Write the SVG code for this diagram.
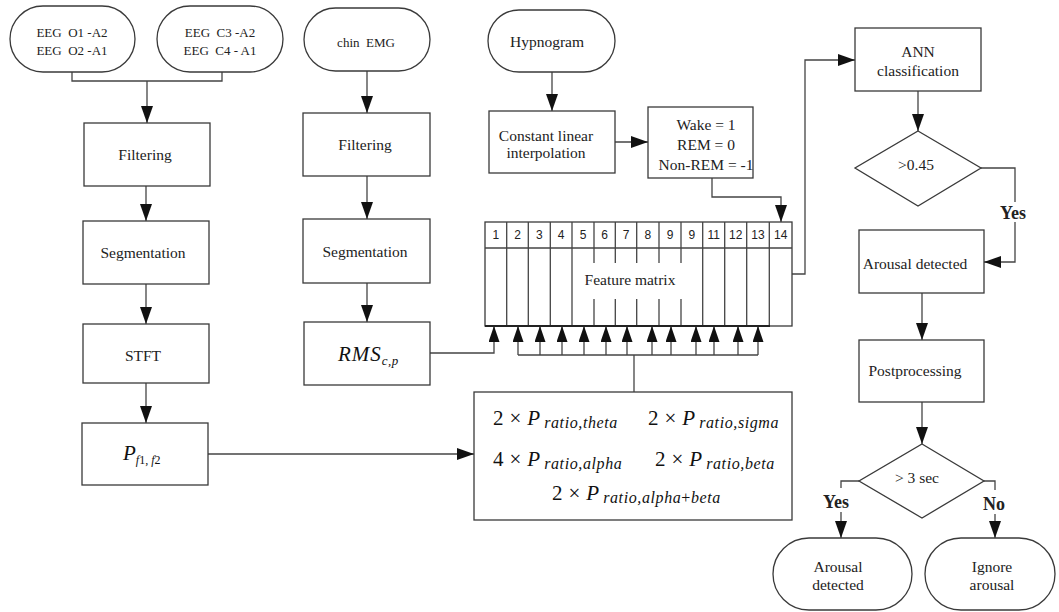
<svg xmlns="http://www.w3.org/2000/svg" width="1059" height="612" viewBox="0 0 1059 612">
<defs>
<style>
.box{fill:#fff;stroke:#3a3a3a;stroke-width:1.3}
.ln{fill:none;stroke:#444;stroke-width:1.3}
.t{font-family:"Liberation Serif","Times New Roman",serif;font-size:15.5px;fill:#222;text-anchor:middle}
.s{font-size:13px}
.num{font-family:"Liberation Sans",Arial,sans-serif;font-size:12px;fill:#222;text-anchor:middle}
.lbl{font-family:"Liberation Serif","Times New Roman",serif;font-size:18px;font-weight:bold;fill:#222;text-anchor:middle}
.m{font-family:"Liberation Serif","Times New Roman",serif;font-size:21px;fill:#111}
.mi{font-style:italic}
.sub{font-style:italic;font-size:16px;letter-spacing:0.6px}
</style>
<marker id="ah" viewBox="0 0 17 12" refX="17" refY="6" markerWidth="17" markerHeight="12" markerUnits="userSpaceOnUse" orient="auto"><path d="M0,0 L17,6 L0,12 z" fill="#111"/></marker>
<marker id="ahs" viewBox="0 0 16 11" refX="16" refY="5.5" markerWidth="16" markerHeight="11" markerUnits="userSpaceOnUse" orient="auto"><path d="M0,0 L16,5.5 L0,11 z" fill="#111"/></marker>
</defs>
<rect width="1059" height="612" fill="#fff"/>

<g id="connectors">
<polyline class="ln" points="72,72 72,81 222,81 222,72"/>
<line class="ln" x1="147" y1="81" x2="147" y2="123" marker-end="url(#ah)"/>
<line class="ln" x1="146" y1="186" x2="146" y2="221" marker-end="url(#ah)"/>
<line class="ln" x1="146" y1="284" x2="146" y2="324" marker-end="url(#ah)"/>
<line class="ln" x1="146" y1="383" x2="146" y2="423" marker-end="url(#ah)"/>
<line class="ln" x1="208" y1="454" x2="474" y2="454" marker-end="url(#ah)"/>
<line class="ln" x1="367" y1="71" x2="367" y2="113" marker-end="url(#ah)"/>
<line class="ln" x1="367" y1="176" x2="367" y2="219" marker-end="url(#ah)"/>
<line class="ln" x1="367" y1="283" x2="367" y2="322" marker-end="url(#ah)"/>
<polyline class="ln" points="430,353 494,353 494,326" marker-end="url(#ahs)"/>
<line class="ln" x1="634" y1="392" x2="634" y2="355"/>
<line class="ln" x1="518" y1="355" x2="758" y2="355"/>
<line class="ln" x1="518" y1="355" x2="518" y2="326" marker-end="url(#ahs)"/>
<line class="ln" x1="540" y1="355" x2="540" y2="326" marker-end="url(#ahs)"/>
<line class="ln" x1="562" y1="355" x2="562" y2="326" marker-end="url(#ahs)"/>
<line class="ln" x1="584" y1="355" x2="584" y2="326" marker-end="url(#ahs)"/>
<line class="ln" x1="606" y1="355" x2="606" y2="326" marker-end="url(#ahs)"/>
<line class="ln" x1="627" y1="355" x2="627" y2="326" marker-end="url(#ahs)"/>
<line class="ln" x1="652" y1="355" x2="652" y2="326" marker-end="url(#ahs)"/>
<line class="ln" x1="671" y1="355" x2="671" y2="326" marker-end="url(#ahs)"/>
<line class="ln" x1="696" y1="355" x2="696" y2="326" marker-end="url(#ahs)"/>
<line class="ln" x1="714" y1="355" x2="714" y2="326" marker-end="url(#ahs)"/>
<line class="ln" x1="738" y1="355" x2="738" y2="326" marker-end="url(#ahs)"/>
<line class="ln" x1="758" y1="355" x2="758" y2="326" marker-end="url(#ahs)"/>
<line class="ln" x1="552" y1="72" x2="552" y2="111" marker-end="url(#ah)"/>
<line class="ln" x1="615" y1="142" x2="648" y2="142" marker-end="url(#ah)"/>
<polyline class="ln" points="712,178 712,197 781,197 781,222" marker-end="url(#ah)"/>
<polyline class="ln" points="792,274 805,274 805,60 855,60" marker-end="url(#ah)"/>
<line class="ln" x1="918" y1="91" x2="918" y2="131" marker-end="url(#ah)"/>
<polyline class="ln" points="981,168 1015,168 1015,262 984,262" marker-end="url(#ah)"/>
<line class="ln" x1="922" y1="293" x2="922" y2="340" marker-end="url(#ah)"/>
<line class="ln" x1="922" y1="402" x2="922" y2="444" marker-end="url(#ah)"/>
<polyline class="ln" points="859,481 841,481 841,538" marker-end="url(#ah)"/>
<polyline class="ln" points="984,481 995,481 995,538" marker-end="url(#ah)"/>
<rect x="997" y="202" width="32" height="20" fill="#fff"/>
<text class="lbl" x="1013" y="219">Yes</text>
<rect x="820" y="488" width="32" height="24" fill="#fff"/>
<text class="lbl" x="836" y="508">Yes</text>
<rect x="980" y="490" width="30" height="24" fill="#fff"/>
<text class="lbl" x="994" y="510">No</text>
</g>

<g id="eeg1"><rect class="box" x="10" y="6" width="125" height="66" rx="33"/><text class="t s" x="72" y="36.5">EEG&#160; O1 -A2</text><text class="t s" x="72" y="54.5">EEG&#160; O2 -A1</text></g>
<g id="eeg2"><rect class="box" x="157" y="6" width="126" height="66" rx="33"/><text class="t s" x="220" y="36.5">EEG&#160; C3 -A2</text><text class="t s" x="220" y="54.5">EEG&#160; C4 - A1</text></g>
<g id="filter1"><rect class="box" x="84" y="123" width="126" height="63"/><text class="t" x="145" y="160">Filtering</text></g>
<g id="seg1"><rect class="box" x="83" y="221" width="126" height="63"/><text class="t" x="143" y="258">Segmentation</text></g>
<g id="stft"><rect class="box" x="83" y="324" width="126" height="59"/><text class="t" x="143" y="361">STFT</text></g>
<g id="pf"><rect class="box" x="82" y="423" width="126" height="62"/><text class="m mi" x="123" y="460" font-size="22">P<tspan font-size="12" dy="4">f<tspan font-style="normal">1,</tspan> f<tspan font-style="normal">2</tspan></tspan></text></g>

<g id="emg"><rect class="box" x="304" y="8" width="126" height="63" rx="31.5"/><text class="t s" x="366" y="46.5" font-size="14">chin&#160; EMG</text></g>
<g id="filter2"><rect class="box" x="303" y="113" width="127" height="63"/><text class="t" x="365" y="150">Filtering</text></g>
<g id="seg2"><rect class="box" x="303" y="219" width="127" height="64"/><text class="t" x="365" y="257">Segmentation</text></g>
<g id="rms"><rect class="box" x="304" y="322" width="126" height="63"/><text class="m mi" x="338" y="361" font-size="19" fill="#1b1b33" letter-spacing="1">RMS<tspan font-size="13" dy="4" letter-spacing="0.5">c,p</tspan></text></g>

<g id="hypno"><rect class="box" x="488" y="10" width="127" height="62" rx="31"/><text class="t" x="547" y="47" font-size="16">Hypnogram</text></g>
<g id="cli"><rect class="box" x="489" y="111" width="126" height="62"/><text class="t" x="546" y="141" font-size="16">Constant linear</text><text class="t" x="546" y="158" font-size="16">interpolation</text></g>
<g id="stage"><rect class="box" x="648" y="107" width="105" height="71"/><text class="t" x="706" y="130">Wake = 1</text><text class="t" x="706" y="150">REM = 0</text><text class="t" x="706" y="170">Non-REM = -1</text></g>

<g id="matrix">
<rect class="box" x="485" y="222" width="307" height="104"/>
<line class="ln" x1="485" y1="248" x2="792" y2="248"/>
<g class="ln">
<line x1="506.7" y1="222" x2="506.7" y2="326"/><line x1="528.3" y1="222" x2="528.3" y2="326"/><line x1="550.3" y1="222" x2="550.3" y2="326"/><line x1="572" y1="222" x2="572" y2="326"/><line x1="594" y1="222" x2="594" y2="326"/><line x1="615.3" y1="222" x2="615.3" y2="326"/><line x1="636.7" y1="222" x2="636.7" y2="326"/><line x1="659" y1="222" x2="659" y2="326"/><line x1="681" y1="222" x2="681" y2="326"/><line x1="702.7" y1="222" x2="702.7" y2="326"/><line x1="724.7" y1="222" x2="724.7" y2="326"/><line x1="746.7" y1="222" x2="746.7" y2="326"/><line x1="769.3" y1="222" x2="769.3" y2="326"/>
</g>
<rect x="574" y="263" width="127" height="36" fill="#fff"/>
<line x1="485" y1="326" x2="770" y2="326" stroke="#222" stroke-width="2"/>
<text class="num" x="495.8" y="239">1</text><text class="num" x="517.5" y="239">2</text><text class="num" x="539.3" y="239">3</text><text class="num" x="561.2" y="239">4</text><text class="num" x="583" y="239">5</text><text class="num" x="604.7" y="239">6</text><text class="num" x="626" y="239">7</text><text class="num" x="647.9" y="239">8</text><text class="num" x="670" y="239">9</text><text class="num" x="691.9" y="239">9</text><text class="num" x="713.7" y="239">11</text><text class="num" x="735.7" y="239">12</text><text class="num" x="758" y="239">13</text><text class="num" x="780.7" y="239">14</text>
<text class="t" x="630" y="285">Feature matrix</text>
</g>

<g id="pratio">
<rect class="box" x="474" y="392" width="318" height="128"/>
<text class="m" x="493" y="425">2<tspan dx="6">×</tspan><tspan dx="6" class="mi">P</tspan><tspan class="sub" dx="4" dy="3">ratio,theta</tspan></text>
<text class="m" x="648" y="425">2<tspan dx="6">×</tspan><tspan dx="6" class="mi">P</tspan><tspan class="sub" dx="4" dy="3">ratio,sigma</tspan></text>
<text class="m" x="493" y="466">4<tspan dx="6">×</tspan><tspan dx="6" class="mi">P</tspan><tspan class="sub" dx="4" dy="3">ratio,alpha</tspan></text>
<text class="m" x="655" y="466">2<tspan dx="6">×</tspan><tspan dx="6" class="mi">P</tspan><tspan class="sub" dx="4" dy="3">ratio,beta</tspan></text>
<text class="m" x="552" y="500">2<tspan dx="6">×</tspan><tspan dx="6" class="mi">P</tspan><tspan class="sub" dx="4" dy="3">ratio,alpha<tspan font-style="normal">+</tspan>beta</tspan></text>
</g>

<g id="ann"><rect class="box" x="855" y="28" width="126" height="63"/><text class="t" x="918" y="56.5">ANN</text><text class="t" x="918" y="76">classification</text></g>
<g id="dec1"><polygon class="box" points="918,131 981,168 918,206 855,168"/><text class="t" x="916" y="170">&gt;0.45</text></g>
<g id="arousal1"><rect class="box" x="859" y="230" width="125" height="63"/><text class="t" x="915" y="269">Arousal detected</text></g>
<g id="post"><rect class="box" x="859" y="340" width="125" height="62"/><text class="t" x="915" y="376">Postprocessing</text></g>
<g id="dec2"><polygon class="box" points="922,444 984,481 922,518 859,481" stroke-width="1.6"/><text class="t" x="917" y="483">&gt; 3 sec</text></g>
<g id="arousal2"><rect class="box" x="773" y="538" width="139" height="72" rx="36"/><text class="t" x="838" y="571.5">Arousal</text><text class="t" x="838" y="590">detected</text></g>
<g id="ignore"><rect class="box" x="925" y="538" width="130" height="72" rx="36"/><text class="t" x="992" y="571.5">Ignore</text><text class="t" x="992" y="590">arousal</text></g>
</svg>
